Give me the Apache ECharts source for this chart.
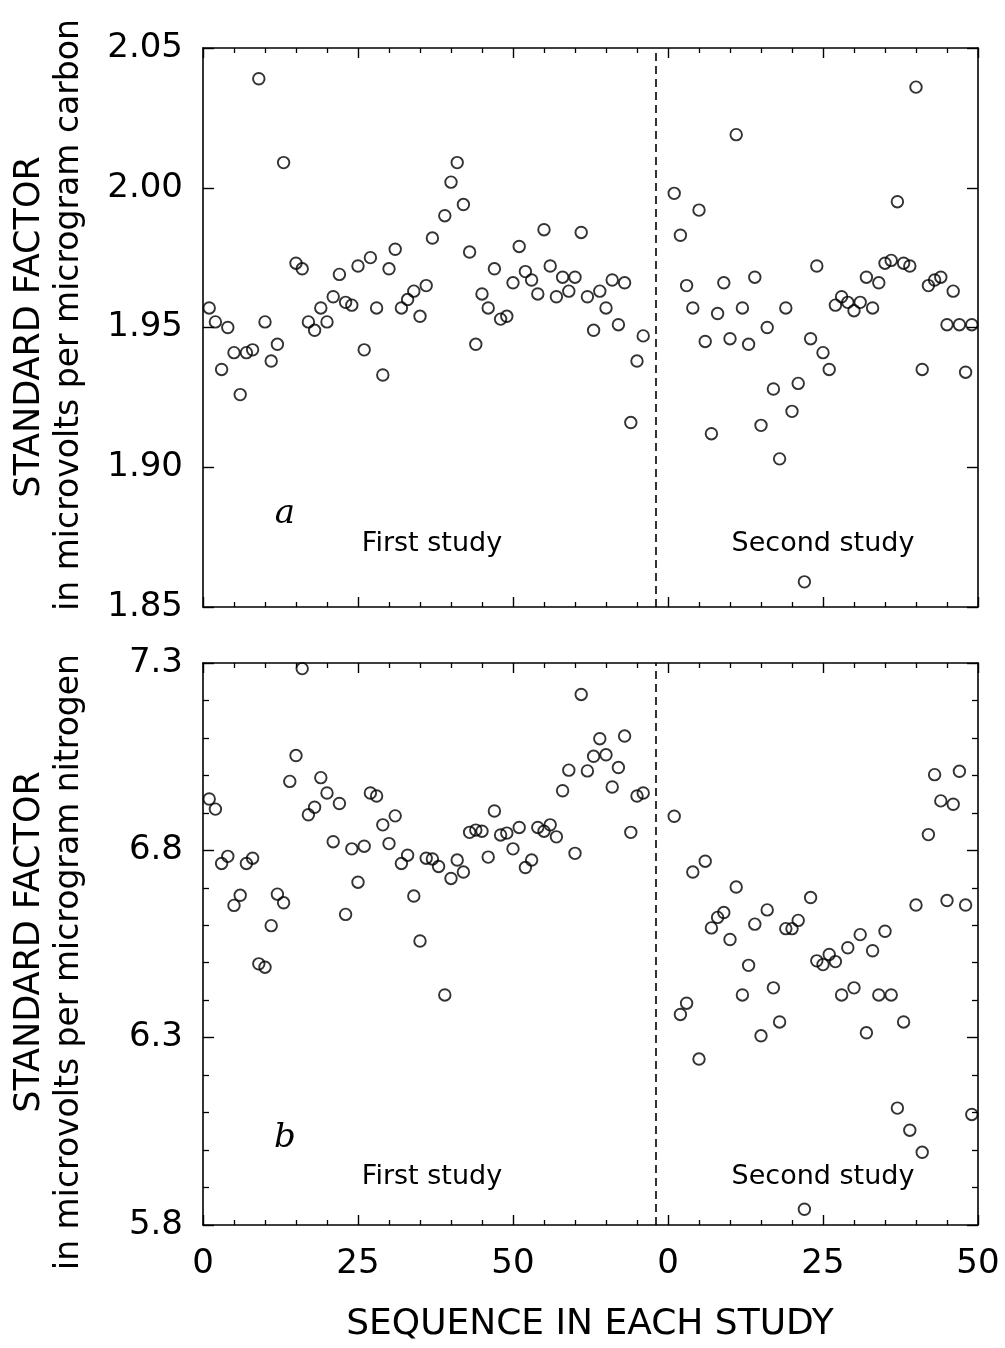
<!DOCTYPE html>
<html>
<head>
<meta charset="utf-8">
<title>Standard factor</title>
<script src="https://cdn.jsdelivr.net/npm/echarts@6/dist/echarts.min.js"></script>
<style>
  html, body { margin: 0; padding: 0; background: #fff; }
  #chart { width: 1005px; height: 1348px; }
</style>
</head>
<body>
<div id="chart"></div>
<script>
  // sequence numbers start at 1 in each study, null = no point at that position
  var carbonFirst = [1.957, 1.952, 1.935, 1.950, 1.941, 1.926, 1.941, 1.942, 2.039, 1.952,
    1.938, 1.944, 2.009, null, 1.973, 1.971, 1.952, 1.949, 1.957, 1.952,
    1.961, 1.969, 1.959, 1.958, 1.972, 1.942, 1.975, 1.957, 1.933, 1.971,
    1.978, 1.957, 1.960, 1.963, 1.954, 1.965, 1.982, null, 1.990, 2.002,
    2.009, 1.994, 1.977, 1.944, 1.962, 1.957, 1.971, 1.953, 1.954, 1.966,
    1.979, 1.970, 1.967, 1.962, 1.985, 1.972, 1.961, 1.968, 1.963, 1.968,
    1.984, 1.961, 1.949, 1.963, 1.957, 1.967, 1.951, 1.966, 1.916, 1.938, 1.947];
  var carbonSecond = [1.998, 1.983, 1.965, 1.957, 1.992, 1.945, 1.912, 1.955, 1.966, 1.946,
    2.019, 1.957, 1.944, 1.968, 1.915, 1.950, 1.928, 1.903, 1.957, 1.920,
    1.930, 1.859, 1.946, 1.972, 1.941, 1.935, 1.958, 1.961, 1.959, 1.956,
    1.959, 1.968, 1.957, 1.966, 1.973, 1.974, 1.995, 1.973, 1.972, 2.036,
    1.935, 1.965, 1.967, 1.968, 1.951, 1.963, 1.951, 1.934, 1.951];
  var nitrogenFirst = [6.937, 6.910, 6.765, 6.784, 6.653, 6.680, 6.765, 6.779, 6.497, 6.488,
    6.599, 6.683, 6.660, 6.984, 7.053, 7.285, 6.895, 6.915, 6.994, 6.953,
    6.823, 6.925, 6.629, 6.804, 6.715, 6.811, 6.953, 6.945, 6.868, 6.818,
    6.892, 6.765, 6.787, 6.678, 6.558, 6.779, 6.777, 6.757, 6.414, 6.725,
    6.774, 6.742, 6.848, 6.854, 6.851, 6.782, 6.905, 6.841, 6.846, 6.804,
    6.861, 6.754, 6.774, 6.861, 6.851, 6.868, 6.836, 6.959, 7.014, 6.792,
    7.216, 7.012, 7.051, 7.098, 7.055, 6.969, 7.021, 7.105, 6.848, 6.945, 6.953];
  var nitrogenSecond = [6.891, 6.362, 6.392, 6.742, 6.243, 6.771, 6.593, 6.621, 6.634, 6.562,
    6.702, 6.414, 6.493, 6.603, 6.305, 6.641, 6.433, 6.342, 6.591, 6.591,
    6.613, 5.842, 6.674, 6.505, 6.495, 6.522, 6.503, 6.414, 6.540, 6.433,
    6.575, 6.313, 6.532, 6.414, 6.584, 6.414, 6.112, 6.342, 6.053, 6.654,
    5.994, 6.842, 7.002, 6.932, 6.666, 6.923, 7.011, 6.654, 6.095];

  var secondStart = 75;   // second study's 0 on the shared x axis
  var dividerAt = 73;     // dashed line between the studies
  var xMax = 125;
  var carbonMin = 1.85, carbonMax = 2.05, carbonStep = 0.05;
  var nitrogenMin = 5.8, nitrogenMax = 7.3, nitrogenStep = 0.5;

  var sans = 'DejaVu Sans';

  // y is stored relative to the axis min so ticks start exactly at the bottom
  function toPoints(arr, offset, base) {
    var out = [];
    arr.forEach(function(v, i) {
      if (v != null) out.push([i + 1 + offset, +(v - base).toFixed(4)]);
    });
    return out;
  }

  function xAxisOf(gridIndex, pos, labels) {
    return {
      type: 'value', gridIndex: gridIndex, position: pos,
      min: 0, max: xMax, interval: 25,
      axisLine: { onZero: false, lineStyle: { color: '#000', width: 1.6 } },
      axisTick: { inside: true, length: 10, lineStyle: { color: '#000', width: 1.4 } },
      minorTick: { show: true, splitNumber: 5, length: 5, lineStyle: { color: '#000', width: 1.3 } },
      splitLine: { show: false },
      minorSplitLine: { show: false },
      axisLabel: {
        show: labels, margin: 22, color: '#000', fontFamily: sans, fontSize: 34,
        formatter: function(v) { return String(v >= secondStart ? v - secondStart : v); }
      }
    };
  }

  function yAxisOf(gridIndex, pos, lo, hi, step, minorSplit, digits, labels) {
    var ax = {
      type: 'value', gridIndex: gridIndex, position: pos,
      min: 0, max: +(hi - lo).toFixed(4), interval: step,
      axisLine: { onZero: false, lineStyle: { color: '#000', width: 1.6 } },
      axisTick: { inside: true, length: 11, lineStyle: { color: '#000', width: 1.4 } },
      splitLine: { show: false },
      minorSplitLine: { show: false },
      axisLabel: {
        show: labels, margin: 20, color: '#000', fontFamily: sans, fontSize: 34,
        formatter: function(v) { return (v + lo).toFixed(digits); }
      }
    };
    if (minorSplit) {
      ax.minorTick = { show: true, splitNumber: minorSplit, length: 6, lineStyle: { color: '#000', width: 1.3 } };
    }
    return ax;
  }

  function dots(xi, yi, data, divider) {
    var s = {
      type: 'scatter', xAxisIndex: xi, yAxisIndex: yi,
      symbol: 'circle', symbolSize: 11.5,
      itemStyle: { color: 'rgba(0,0,0,0)', borderColor: '#000', borderWidth: 1.9 },
      emphasis: { disabled: true },
      data: data
    };
    if (divider) {
      s.markLine = {
        silent: true, symbol: 'none', label: { show: false },
        lineStyle: { color: '#000', width: 1.6, type: [8, 5] },
        data: [{ xAxis: dividerAt }]
      };
    }
    return s;
  }

  function label(text, x, y, size, extra) {
    return {
      type: 'text', x: x, y: y, rotation: extra && extra.rot ? Math.PI / 2 : 0,
      style: {
        text: text, fill: '#000',
        font: (extra && extra.font) || (size + 'px "' + sans + '"'),
        textAlign: 'center', textVerticalAlign: 'middle'
      }
    };
  }

  var option = {
    backgroundColor: '#fff',
    animation: false,
    grid: [
      { left: 203, top: 48, width: 775, height: 559 },
      { left: 203, top: 663, width: 775, height: 562 }
    ],
    xAxis: [
      xAxisOf(0, 'bottom', false),
      xAxisOf(0, 'top', false),
      xAxisOf(1, 'bottom', true),
      xAxisOf(1, 'top', false)
    ],
    yAxis: [
      yAxisOf(0, 'left', carbonMin, carbonMax, carbonStep, 0, 2, true),
      yAxisOf(0, 'right', carbonMin, carbonMax, carbonStep, 0, 2, false),
      yAxisOf(1, 'left', nitrogenMin, nitrogenMax, nitrogenStep, 5, 1, true),
      yAxisOf(1, 'right', nitrogenMin, nitrogenMax, nitrogenStep, 5, 1, false)
    ],
    series: [
      dots(0, 0, toPoints(carbonFirst, 0, carbonMin), true),
      dots(0, 0, toPoints(carbonSecond, secondStart, carbonMin), false),
      dots(2, 2, toPoints(nitrogenFirst, 0, nitrogenMin), true),
      dots(2, 2, toPoints(nitrogenSecond, secondStart, nitrogenMin), false)
    ],
    graphic: [
      label('STANDARD FACTOR', 30, 327, 35, { rot: true }),
      label('in microvolts per microgram carbon', 69, 315, 33, { rot: true }),
      label('STANDARD FACTOR', 30, 942, 35, { rot: true }),
      label('in microvolts per microgram nitrogen', 69, 962, 33, { rot: true }),
      label('a', 285, 514, 0, { font: 'italic 34px "DejaVu Serif"' }),
      label('b', 285, 1138, 0, { font: 'italic 34px "DejaVu Serif"' }),
      label('First study', 432, 544, 27),
      label('Second study', 823, 544, 27),
      label('First study', 432, 1177, 27),
      label('Second study', 823, 1177, 27),
      label('SEQUENCE IN EACH STUDY', 590, 1325, 36)
    ]
  };

  var myChart = echarts.init(document.getElementById('chart'));
  myChart.setOption(option, true);
</script>
</body>
</html>
